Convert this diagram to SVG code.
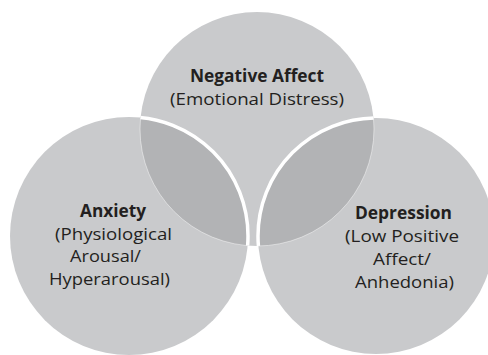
<svg xmlns="http://www.w3.org/2000/svg" width="488" height="355" viewBox="0 0 488 355">
<style>
.c{fill:#c9cacc}
.ov{fill:#b2b3b5}
.thick{fill:none;stroke:#ffffff;stroke-width:3.5}
.faint{fill:none;stroke:#ffffff;stroke-opacity:0.45;stroke-width:1}
text{font-family:"Open Sans","Liberation Sans",sans-serif;fill:#231f20;text-anchor:middle;font-size:17px}
.b{font-weight:bold}
</style>
<defs>
<clipPath id="clipL"><circle cx="129" cy="236" r="119"/></clipPath>
<clipPath id="clipR"><circle cx="376" cy="236" r="118"/></clipPath>
<clipPath id="clipT"><circle cx="257" cy="129" r="117"/></clipPath>
</defs>
<rect width="488" height="355" fill="#ffffff"/>
<g id="negative-affect">
<circle class="c" cx="257" cy="129" r="117"/>
<text class="b" x="257" y="82" textLength="134" lengthAdjust="spacingAndGlyphs">Negative Affect</text>
<text x="257" y="105" textLength="174" lengthAdjust="spacingAndGlyphs">(Emotional Distress)</text>
</g>
<g id="anxiety">
<circle class="c" cx="129" cy="236" r="119"/>
<text class="b" x="113" y="217" textLength="66" lengthAdjust="spacingAndGlyphs">Anxiety</text>
<text x="113.5" y="240" textLength="117" lengthAdjust="spacingAndGlyphs">(Physiological</text>
<text x="105.5" y="262" textLength="71" lengthAdjust="spacingAndGlyphs">Arousal/</text>
<text x="109.5" y="285" textLength="121" lengthAdjust="spacingAndGlyphs">Hyperarousal)</text>
</g>
<g id="depression">
<circle class="c" cx="376" cy="236" r="118"/>
<text class="b" x="403.5" y="219" textLength="97" lengthAdjust="spacingAndGlyphs">Depression</text>
<text x="402" y="242" textLength="114" lengthAdjust="spacingAndGlyphs">(Low Positive</text>
<text x="402" y="265" textLength="58" lengthAdjust="spacingAndGlyphs">Affect/</text>
<text x="404.5" y="288" textLength="99" lengthAdjust="spacingAndGlyphs">Anhedonia)</text>
</g>
<g id="overlaps">
<circle class="ov" cx="257" cy="129" r="117" clip-path="url(#clipL)"/>
<circle class="ov" cx="257" cy="129" r="117" clip-path="url(#clipR)"/>
<circle class="faint" cx="257" cy="129" r="117" clip-path="url(#clipL)"/>
<circle class="faint" cx="257" cy="129" r="117" clip-path="url(#clipR)"/>
<circle class="thick" cx="129" cy="236" r="119" clip-path="url(#clipT)"/>
<circle class="thick" cx="376" cy="236" r="118" clip-path="url(#clipT)"/>
</g>
</svg>
